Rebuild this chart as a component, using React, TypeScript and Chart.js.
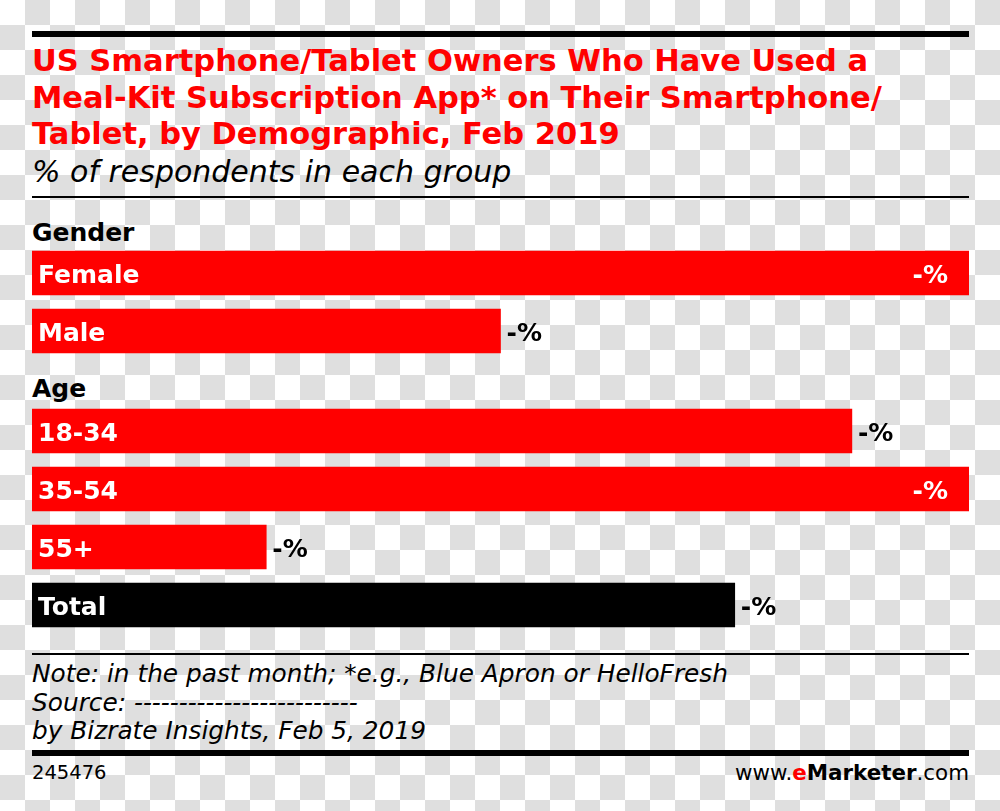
import React, { useEffect, useRef } from "react";
import { Chart, registerables } from "chart.js";

Chart.register(...registerables);

// ---- data ----
const titleLines = [
  "US Smartphone/Tablet Owners Who Have Used a",
  "Meal-Kit Subscription App* on Their Smartphone/",
  "Tablet, by Demographic, Feb 2019",
];
const subtitle = "% of respondents in each group";
const genderHeader = "Gender";
const genderLabels = ["Female", "Male"];
const genderValues = [8, 4];
const ageHeader = "Age";
const ageLabels = ["18-34", "35-54", "55+", "Total"];
const ageValues = [7, 8, 2, 6];
const valueText = "-%";
const noteLines = [
  "Note: in the past month; *e.g., Blue Apron or HelloFresh",
  "Source: -------------------------",
  "by Bizrate Insights, Feb 5, 2019",
];
const chartId = "245476";

// ---- styles ----
const RED = "#ff0000";
const genderColors = [RED, RED];
const ageColors = [RED, RED, RED, "#000000"];
const xMax = Math.max(...genderValues, ...ageValues);
const FONT = "'DejaVu Sans', sans-serif";

const labelPlugin = {
  id: "barLabels",
  afterDatasetsDraw(chart: any) {
    const { ctx, chartArea } = chart;
    const meta = chart.getDatasetMeta(0);
    const labels = chart.data.labels as string[];
    const data = chart.data.datasets[0].data as number[];
    ctx.save();
    ctx.font = `bold 25px ${FONT}`;
    ctx.textBaseline = "alphabetic";
    meta.data.forEach((bar: any, i: number) => {
      const yb = bar.y + 10;
      ctx.fillStyle = "#ffffff";
      ctx.textAlign = "left";
      ctx.fillText(labels[i], chartArea.left + 6, yb);
      if (data[i] >= xMax) {
        ctx.textAlign = "right";
        ctx.fillStyle = "#ffffff";
        ctx.fillText(valueText, bar.x - 21, yb);
      } else {
        ctx.textAlign = "left";
        ctx.fillStyle = "#000000";
        ctx.fillText(valueText, bar.x + 6, yb);
      }
    });
    ctx.restore();
  },
};

function BarGroup(props: { labels: string[]; values: number[]; colors: string[]; top: number }) {
  const ref = useRef<HTMLCanvasElement>(null);
  useEffect(() => {
    if (!ref.current) return;
    const chart = new Chart(ref.current, {
      type: "bar",
      data: {
        labels: props.labels,
        datasets: [
          {
            data: props.values,
            backgroundColor: props.colors,
            borderWidth: 0,
            barThickness: 44,
          },
        ],
      },
      options: {
        indexAxis: "y",
        responsive: false,
        maintainAspectRatio: false,
        animation: false,
        events: [],
        layout: { padding: 0 },
        plugins: {
          legend: { display: false },
          tooltip: { enabled: false },
          title: { display: false },
        },
        scales: {
          x: { display: false, min: 0, max: xMax },
          y: { display: false },
        },
      },
      plugins: [labelPlugin],
    } as any);
    return () => chart.destroy();
  }, []);
  const h = props.labels.length * 58;
  return (
    <canvas
      ref={ref}
      width={937}
      height={h}
      style={{ position: "absolute", left: 32, top: props.top, width: 937, height: h }}
    />
  );
}

const rule = (top: number, height: number): React.CSSProperties => ({
  position: "absolute",
  left: 32,
  top,
  width: 937,
  height,
  background: "#000",
});

export default function App() {
  return (
    <div
      style={{
        position: "absolute",
        left: 0,
        top: 0,
        width: 1000,
        height: 811,
        overflow: "hidden",
        background: "repeating-conic-gradient(#dfdfdf 0 25%, #ffffff 0 50%) 0 0 / 50px 50px",
        fontFamily: FONT,
        color: "#000",
      }}
    >
      <div style={rule(31, 6)} />
      <div
        style={{
          position: "absolute",
          left: 32,
          top: 43,
          fontSize: 30.5,
          lineHeight: "36.5px",
          fontWeight: "bold",
          color: RED,
          whiteSpace: "nowrap",
        }}
      >
        {titleLines.map((t, i) => (
          <div key={i}>{t}</div>
        ))}
      </div>
      <div
        style={{
          position: "absolute",
          left: 32,
          top: 154,
          fontSize: 30,
          lineHeight: "35px",
          fontStyle: "italic",
          whiteSpace: "nowrap",
        }}
      >
        {subtitle}
      </div>
      <div style={rule(196, 2)} />
      <div
        style={{
          position: "absolute",
          left: 32,
          top: 218,
          fontSize: 25,
          lineHeight: "30px",
          fontWeight: "bold",
          whiteSpace: "nowrap",
        }}
      >
        {genderHeader}
      </div>
      <BarGroup labels={genderLabels} values={genderValues} colors={genderColors} top={244} />
      <div
        style={{
          position: "absolute",
          left: 32,
          top: 374,
          fontSize: 25,
          lineHeight: "30px",
          fontWeight: "bold",
          whiteSpace: "nowrap",
        }}
      >
        {ageHeader}
      </div>
      <BarGroup labels={ageLabels} values={ageValues} colors={ageColors} top={402} />
      <div style={rule(653, 2)} />
      <div
        style={{
          position: "absolute",
          left: 32,
          top: 660,
          fontSize: 24.8,
          lineHeight: "28.7px",
          fontStyle: "italic",
          whiteSpace: "nowrap",
        }}
      >
        {noteLines.map((t, i) => (
          <div key={i}>{t}</div>
        ))}
      </div>
      <div style={rule(750, 6)} />
      <div
        style={{
          position: "absolute",
          left: 32,
          top: 761,
          fontSize: 19.5,
          lineHeight: "24px",
          whiteSpace: "nowrap",
        }}
      >
        {chartId}
      </div>
      <div
        style={{
          position: "absolute",
          right: 31,
          top: 760,
          fontSize: 21.4,
          lineHeight: "25px",
          whiteSpace: "nowrap",
        }}
      >
        www.<b style={{ color: RED }}>e</b>
        <b>Marketer</b>.com
      </div>
    </div>
  );
}
